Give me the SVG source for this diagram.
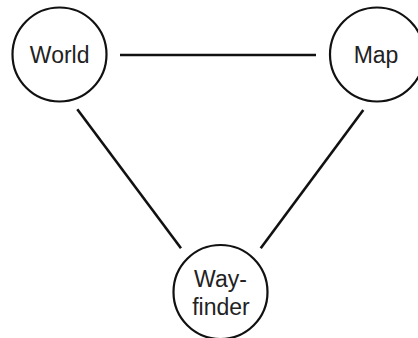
<svg xmlns="http://www.w3.org/2000/svg" width="418" height="338" viewBox="0 0 418 338">
<style>
.node{fill:#fff;stroke:#111;stroke-width:2.2}
.lbl{font-family:"Liberation Sans",Arial,sans-serif;font-size:23px;fill:#222;text-anchor:middle}
.edge{stroke:#111;stroke-width:2.6;fill:none}
</style>
<rect width="418" height="338" fill="#fff"/>
<g id="connectors">
<line class="edge" x1="120" y1="55" x2="316" y2="55"/>
<line class="edge" x1="77.3" y1="109.3" x2="181" y2="248.3"/>
<line class="edge" x1="363.3" y1="110" x2="260.7" y2="248.3"/>
</g>
<g id="world">
<circle class="node" cx="59.5" cy="54.5" r="47"/>
<text class="lbl" x="59.7" y="63.3">World</text>
</g>
<g id="map">
<circle class="node" cx="377" cy="54.5" r="47"/>
<text class="lbl" x="376" y="62.7">Map</text>
</g>
<g id="wayfinder">
<circle class="node" cx="220.5" cy="292" r="47"/>
<text class="lbl" x="220.5" y="287.3">Way-</text>
<text class="lbl" x="221" y="315">finder</text>
</g>
</svg>
